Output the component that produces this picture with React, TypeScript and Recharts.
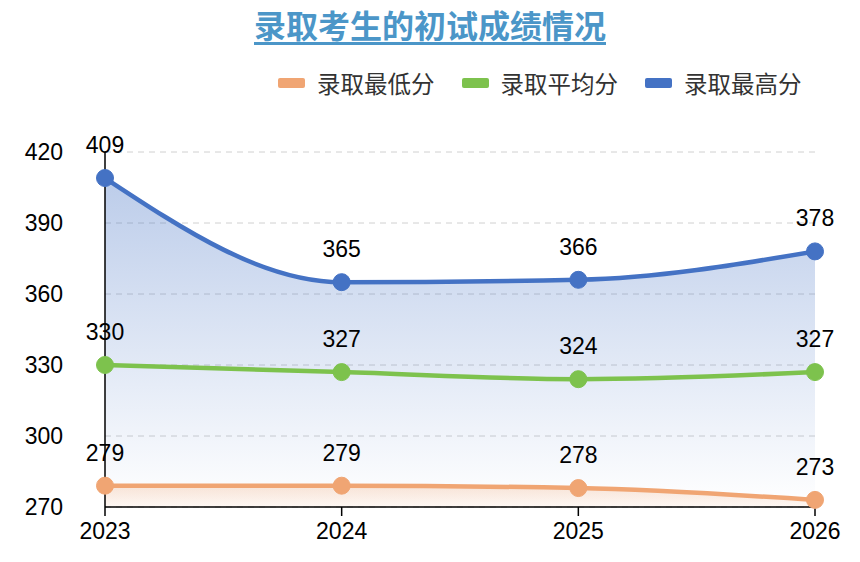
import React from "react"
import {
  ComposedChart,
  Area,
  Line,
  XAxis,
  YAxis,
  CartesianGrid,
  LabelList,
} from "recharts"

// chart values
const years = ["2023", "2024", "2025", "2026"]
const minScores = [279, 279, 278, 273]
const avgScores = [330, 327, 324, 327]
const maxScores = [409, 365, 366, 378]
const yTicks = [270, 300, 330, 360, 390, 420]

const ORANGE = "#f0a573"
const GREEN = "#7dc24d"
const BLUE = "#4472c4"
const TITLE_COLOR = "#4b96c8"

const data = years.map((year, i) => ({
  year,
  min: minScores[i],
  avg: avgScores[i],
  max: maxScores[i],
}))

const legendItems = [
  { name: "录取最低分", color: ORANGE },
  { name: "录取平均分", color: GREEN },
  { name: "录取最高分", color: BLUE },
]

const cjk = '"Noto Sans CJK SC", "Noto Sans", sans-serif'
const latin = '"Liberation Sans", Arial, sans-serif'

function Title() {
  return (
    <div
      style={{
        position: "absolute",
        left: 0,
        top: 6,
        width: 860,
        textAlign: "center",
        fontFamily: cjk,
      }}
    >
      <span
        style={{
          display: "inline-block",
          fontSize: 32,
          fontWeight: 700,
          color: TITLE_COLOR,
          lineHeight: "36px",
          paddingBottom: 0,
          borderBottom: `3.5px solid ${TITLE_COLOR}`,
        }}
      >
        录取考生的初试成绩情况
      </span>
    </div>
  )
}

function ChartLegend() {
  return (
    <div
      style={{
        position: "absolute",
        left: 278,
        top: 67,
        display: "flex",
        alignItems: "center",
        fontFamily: cjk,
        fontSize: 23.5,
        color: "#333",
      }}
    >
      {legendItems.map((item) => (
        <div key={item.name} style={{ display: "flex", alignItems: "center", marginRight: 27 }}>
          <span
            style={{
              display: "inline-block",
              width: 27,
              height: 10,
              borderRadius: 2,
              background: item.color,
              marginRight: 12,
            }}
          />
          <span style={{ lineHeight: "32px" }}>{item.name}</span>
        </div>
      ))}
    </div>
  )
}

export default function App() {
  return (
    <div style={{ position: "absolute", left: 0, top: 0, width: 860, height: 562, background: "#fff" }}>
      <Title />
      <ChartLegend />
      <ComposedChart
        width={860}
        height={562}
        data={data}
        margin={{ top: 152, right: 45, left: 0, bottom: 0 }}
        style={{ fontFamily: latin }}
      >
        <defs>
          <linearGradient id="maxFill" x1="0" y1="0" x2="0" y2="1">
            <stop offset="0%" stopColor={BLUE} stopOpacity={0.36} />
            <stop offset="100%" stopColor={BLUE} stopOpacity={0.0} />
          </linearGradient>
          <linearGradient id="minFill" x1="0" y1="0" x2="0" y2="1">
            <stop offset="0%" stopColor={ORANGE} stopOpacity={0.28} />
            <stop offset="100%" stopColor={ORANGE} stopOpacity={0.08} />
          </linearGradient>
        </defs>
        <CartesianGrid vertical={false} stroke="#d0d0d0" strokeDasharray="6 5" />
        <XAxis
          dataKey="year"
          scale="point"
          padding={{ left: 0, right: 0 }}
          height={55}
          axisLine={{ stroke: "#000", strokeWidth: 1.5 }}
          tickLine={{ stroke: "#000", strokeWidth: 1.5 }}
          tickSize={9}
          tickMargin={7}
          tick={{ fill: "#000", fontSize: 23 }}
        />
        <YAxis
          domain={[270, 420]}
          ticks={yTicks}
          width={105}
          axisLine={{ stroke: "#000", strokeWidth: 1.5 }}
          tickLine={false}
          tickSize={0}
          tickMargin={42}
          tick={{ fill: "#000", fontSize: 23 }}
        />
        <Area
          type="monotone"
          dataKey="max"
          baseValue={270}
          stroke={BLUE}
          strokeWidth={4.5}
          fill="url(#maxFill)"
          fillOpacity={1}
          dot={{ r: 8.5, fill: BLUE, fillOpacity: 1, stroke: BLUE, strokeWidth: 1 }}
          activeDot={false}
          isAnimationActive={false}
        >
          <LabelList dataKey="max" position="top" offset={25} fill="#000" fontSize={23} />
        </Area>
        <Area
          type="monotone"
          dataKey="min"
          baseValue={270}
          stroke={ORANGE}
          strokeWidth={4.5}
          fill="url(#minFill)"
          fillOpacity={1}
          dot={{ r: 8.5, fill: ORANGE, fillOpacity: 1, stroke: ORANGE, strokeWidth: 1 }}
          activeDot={false}
          isAnimationActive={false}
        >
          <LabelList dataKey="min" position="top" offset={25} fill="#000" fontSize={23} />
        </Area>
        <Line
          type="monotone"
          dataKey="avg"
          stroke={GREEN}
          strokeWidth={4.5}
          dot={{ r: 8.5, fill: GREEN, fillOpacity: 1, stroke: GREEN, strokeWidth: 1 }}
          activeDot={false}
          isAnimationActive={false}
        >
          <LabelList dataKey="avg" position="top" offset={25} fill="#000" fontSize={23} />
        </Line>
      </ComposedChart>
    </div>
  )
}
